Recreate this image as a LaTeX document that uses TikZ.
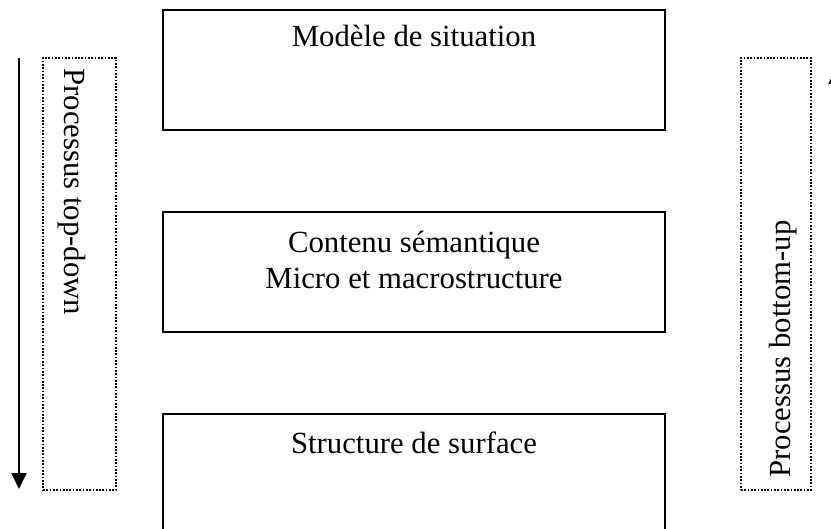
\documentclass[tikz,border=0pt]{standalone}
\usepackage{fontspec}
\setmainfont{Liberation Serif}
\usetikzlibrary{arrows.meta,positioning}
\tikzset{
 boite/.style={draw,line width=0.4mm,minimum width=100.4mm,minimum height=24mm,inner sep=0pt},
 cadre/.style={draw,line width=0.3mm,dash pattern=on 0.34mm off 0.32mm,minimum height=86.4mm,inner sep=0pt},
 texte/.style={font=\fontsize{17.5}{20.5}\selectfont,align=center,inner sep=0pt},
 fleche/.style={line width=0.4mm,-{Triangle[length=3.2mm,width=3mm]}}
}
\begin{document}
\begin{tikzpicture}[x=0.2mm,y=-0.2mm]
\clip (0,0) rectangle (831,529);
% les trois niveaux
\node[boite] (situation) at (414,70){};
\node[boite] (semantique) at (414,272){};
\node[boite] (surface) at (414,474){};
\node[texte,anchor=base] (tsituation) at (414,47){Modèle de situation};
\node[texte,anchor=north] (tsemantique) at (414,231){Contenu sémantique\\Micro et macrostructure};
\node[texte,anchor=base] (tsurface) at (414,453){Structure de surface};
% cadres pointilles
\node[cadre,minimum width=14.6mm] (gauche) at (79.5,274){};
\node[cadre,minimum width=14mm] (droite) at (776,274){};
\node[texte,rotate=-90,anchor=base west] (topdown) at (64,68){Processus top-down};
\node[texte,rotate=90,anchor=base west] (bottomup) at (790,478){Processus bottom-up};
% fleches
\coordinate (hg) at (19,58);
\coordinate (bg) at (19,489);
\coordinate (bd) at (836,490);
\coordinate (hd) at (836,68);
\draw[fleche] (hg) -- (bg);
\draw[fleche] (bd) -- (hd);
\end{tikzpicture}
\end{document}
